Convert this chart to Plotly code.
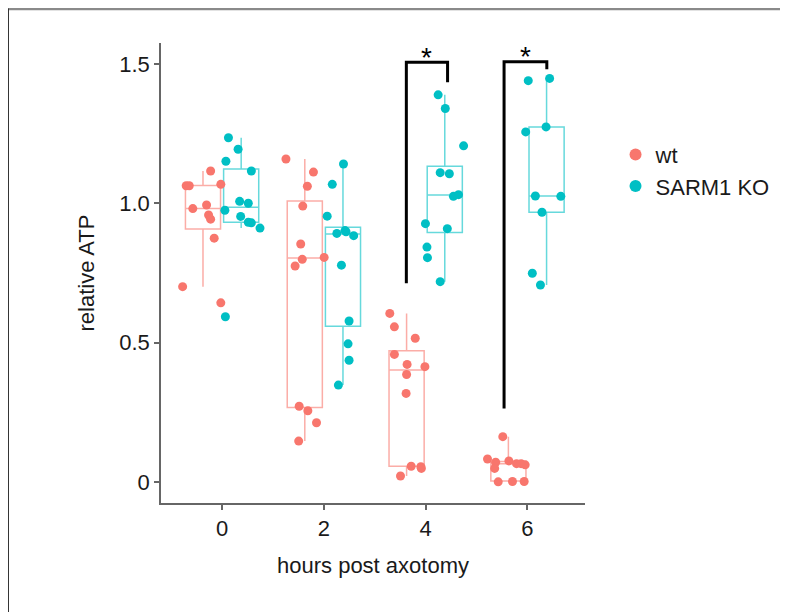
import plotly.graph_objects as go

hours = [0, 2, 4, 6]
groups = ["wt", "SARM1 KO"]
colors = {"wt": "#F8766D", "SARM1 KO": "#00BFC4"}
box_line = {"wt": "rgba(248,118,109,0.6)", "SARM1 KO": "rgba(0,191,196,0.6)"}
dodge = {"wt": -0.375, "SARM1 KO": 0.375}

wt_vals = {
    0: [1.116, 1.063, 1.063, 1.068, 0.981, 0.994, 0.958, 0.943, 0.875, 0.701, 0.643],
    2: [1.159, 1.112, 1.061, 0.990, 0.854, 0.799, 0.806, 0.775, 0.272, 0.256, 0.213, 0.147],
    4: [0.605, 0.557, 0.516, 0.458, 0.422, 0.414, 0.386, 0.318, 0.057, 0.055, 0.049, 0.022],
    6: [0.163, 0.083, 0.071, 0.076, 0.066, 0.066, 0.062, 0.049, 0.001, 0.002, 0.002],
}
wt_jit = {
    0: [0.15, -0.33, -0.27, 0.35, -0.20, 0.07, 0.11, 0.15, 0.22, -0.40, 0.35],
    2: [-0.37, 0.17, 0.05, -0.04, -0.08, -0.05, 0.38, -0.19, -0.11, 0.06, 0.23, -0.12],
    4: [-0.33, -0.24, 0.17, -0.24, 0.01, 0.36, 0.00, -0.01, 0.09, 0.28, 0.29, -0.12],
    6: [-0.11, -0.41, -0.25, 0.01, 0.16, 0.25, 0.33, -0.27, -0.20, 0.08, 0.31],
}
ko_vals = {
    0: [1.235, 1.194, 1.151, 1.116, 1.007, 1.000, 0.975, 0.953, 0.932, 0.930, 0.911, 0.593],
    2: [1.141, 1.068, 0.954, 0.892, 0.902, 0.898, 0.884, 0.778, 0.578, 0.496, 0.437, 0.348],
    4: [1.389, 1.340, 1.206, 1.110, 1.106, 1.025, 1.031, 0.927, 0.909, 0.843, 0.805, 0.719],
    6: [1.440, 1.448, 1.274, 1.256, 1.026, 1.025, 0.968, 0.749, 0.707],
}
ko_jit = {
    0: [-0.25, -0.06, -0.30, 0.20, -0.03, 0.14, -0.32, -0.01, 0.14, 0.20, 0.37, -0.31],
    2: [0.01, -0.21, -0.31, -0.12, 0.04, 0.06, 0.21, -0.03, 0.12, 0.10, 0.12, -0.09],
    4: [-0.13, 0.01, 0.37, -0.09, 0.09, 0.17, 0.27, -0.38, 0.05, -0.35, -0.34, -0.09],
    6: [-0.36, 0.06, -0.01, -0.41, -0.22, 0.28, -0.09, -0.28, -0.12],
}

# box statistics
box_stats = {
    "wt": dict(q1=[0.908, 0.268, 0.057, 0.004], median=[0.981, 0.804, 0.402, 0.066],
               q3=[1.064, 1.008, 0.471, 0.074], lower=[0.701, 0.147, 0.022, 0.001],
               upper=[1.116, 1.159, 0.605, 0.163]),
    "SARM1 KO": dict(q1=[0.932, 0.559, 0.895, 0.968], median=[0.986, 0.890, 1.030, 1.026],
                     q3=[1.123, 0.914, 1.133, 1.274], lower=[0.911, 0.348, 0.719, 0.707],
                     upper=[1.235, 1.141, 1.389, 1.448]),
}

# significance brackets
sig_labels = ["*", "*"]
bracket_left = [3.62, 5.54]
bracket_right = [4.43, 6.38]
bracket_top = [1.506, 1.508]
bracket_left_bottom = [0.713, 0.264]
bracket_right_bottom = [1.434, 1.481]

font_family = "Liberation Sans, Arial, sans-serif"
fig = go.Figure()

for g in groups:
    st = box_stats[g]
    fig.add_trace(go.Box(
        x=[h + dodge[g] for h in hours],
        q1=st["q1"], median=st["median"], q3=st["q3"],
        lowerfence=st["lower"], upperfence=st["upper"],
        width=0.69, boxpoints=False, whiskerwidth=0,
        line=dict(color=box_line[g], width=1.5),
        fillcolor="rgba(0,0,0,0)", showlegend=False, hoverinfo="skip",
    ))

for g, vals, jit in [("wt", wt_vals, wt_jit), ("SARM1 KO", ko_vals, ko_jit)]:
    xs, ys = [], []
    for h in hours:
        xs += [h + dodge[g] + j for j in jit[h]]
        ys += vals[h]
    fig.add_trace(go.Scatter(
        x=xs, y=ys, mode="markers", name=g,
        marker=dict(color=colors[g], size=9, line=dict(width=0)),
    ))

for i in range(len(sig_labels)):
    fig.add_shape(type="path",
                  path=f"M {bracket_left[i]} {bracket_left_bottom[i]} L {bracket_left[i]} {bracket_top[i]} "
                       f"L {bracket_right[i]} {bracket_top[i]} L {bracket_right[i]} {bracket_right_bottom[i]}",
                  xref="x", yref="y", line=dict(color="black", width=3))
    fig.add_annotation(x=(bracket_left[i] + bracket_right[i]) / 2, y=bracket_top[i],
                       text=sig_labels[i], showarrow=False, yanchor="middle", yshift=5,
                       font=dict(size=28, color="black", family=font_family))

# outer frame (top and left edges of the figure)
fig.add_shape(type="line", xref="paper", yref="paper", x0=-0.37, x1=1.6, y0=1.0739, y1=1.0739,
              line=dict(color="#8a8a8a", width=2.5))
fig.add_shape(type="line", xref="paper", yref="paper", x0=-0.3597, x1=-0.3597, y0=-0.3, y1=1.075,
              line=dict(color="#333333", width=1))

axis_common = dict(showline=True, linecolor="#666666", linewidth=1.5, ticks="outside",
                   ticklen=5, tickcolor="#666666", tickwidth=1.5, showgrid=False, zeroline=False,
                   tickfont=dict(size=22, color="#1a1a1a", family=font_family))

fig.update_layout(
    width=788, height=612,
    margin=dict(l=153, r=211, t=35, b=117),
    paper_bgcolor="white", plot_bgcolor="white",
    font=dict(family=font_family, color="#1a1a1a"),
    xaxis=dict(range=[-1.2, 7.13], tickvals=hours, ticktext=[str(h) for h in hours],
               title=dict(text="hours post axotomy", font=dict(size=22, family=font_family), standoff=17),
               **axis_common),
    yaxis=dict(range=[-0.075, 1.575], tickvals=[0, 0.5, 1.0, 1.5], ticktext=["0", "0.5", "1.0", "1.5"],
               title=dict(text="relative ATP", font=dict(size=22, family=font_family), standoff=19),
               **axis_common),
    legend=dict(x=1.072, y=0.803, xanchor="left", yanchor="top", bgcolor="rgba(0,0,0,0)",
                font=dict(size=22, family=font_family, color="#1a1a1a"), itemsizing="constant",
                tracegroupgap=0),
    showlegend=True,
)

fig.write_html("out.html")
